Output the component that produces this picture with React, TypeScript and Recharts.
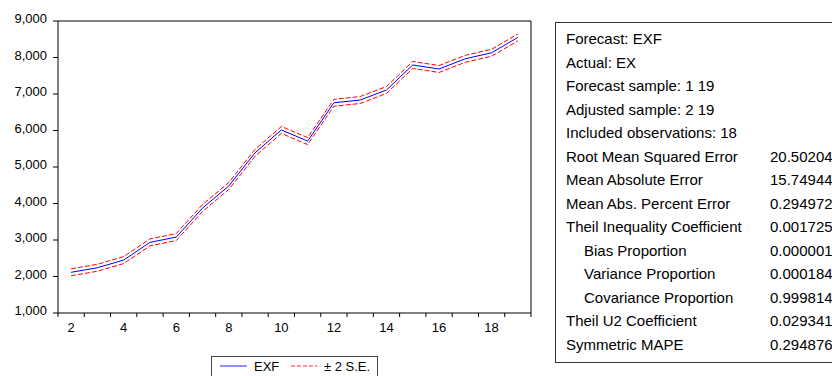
import {
  LineChart,
  Line,
  XAxis,
  YAxis,
  ReferenceLine,
  Legend,
} from "recharts";

// observations 2..19 (adjusted sample)
const obs = [2, 3, 4, 5, 6, 7, 8, 9, 10, 11, 12, 13, 14, 15, 16, 17, 18, 19];
const exf = [
  2115, 2240, 2450, 2935, 3080, 3875, 4480, 5390, 6015, 5710, 6760, 6835,
  7110, 7795, 7685, 7965, 8130, 8550,
];
const upper = [
  2210, 2335, 2545, 3030, 3175, 3970, 4575, 5485, 6110, 5805, 6855, 6930,
  7205, 7890, 7780, 8060, 8225, 8645,
];
const lower = [
  2020, 2145, 2355, 2840, 2985, 3780, 4385, 5295, 5920, 5615, 6665, 6740,
  7015, 7700, 7590, 7870, 8035, 8455,
];

const yTicks = [1000, 2000, 3000, 4000, 5000, 6000, 7000, 8000, 9000];
const xLabels = [2, 4, 6, 8, 10, 12, 14, 16, 18];
const xEdges = [
  1.5, 2.5, 3.5, 4.5, 5.5, 6.5, 7.5, 8.5, 9.5, 10.5, 11.5, 12.5, 13.5, 14.5,
  15.5, 16.5, 17.5, 18.5, 19.5,
];

const statLabels = [
  "Forecast: EXF",
  "Actual: EX",
  "Forecast sample: 1 19",
  "Adjusted sample: 2 19",
  "Included observations: 18",
  "Root Mean Squared Error",
  "Mean Absolute Error",
  "Mean Abs. Percent Error",
  "Theil Inequality Coefficient",
  "Bias Proportion",
  "Variance Proportion",
  "Covariance Proportion",
  "Theil U2 Coefficient",
  "Symmetric MAPE",
];
const statValues = [
  "", "", "", "", "",
  "20.50204", "15.74944", "0.294972", "0.001725", "0.000001",
  "0.000184", "0.999814", "0.029341", "0.294876",
];
const indented = [9, 10, 11];

const font = "'Liberation Sans', Arial, sans-serif";

const data = obs.map((o, i) => ({
  obs: o,
  exf: exf[i],
  upper: upper[i],
  lower: lower[i],
}));

const XTick = ({ x, y, payload }: any) => {
  const v = payload.value;
  if (Number.isInteger(v)) {
    return (
      <text x={x} y={y + 10} dy="0.71em" textAnchor="middle" fontSize={13} fill="#000" fontFamily={font}>
        {v}
      </text>
    );
  }
  return <line x1={x} x2={x} y1={y} y2={y + 4} stroke="#000" />;
};

const YTick = ({ x, y, payload }: any) => (
  <text x={x} y={y} dy={2} textAnchor="end" fontSize={13} fill="#000" fontFamily={font}>
    {payload.value.toLocaleString("en-US")}
  </text>
);

const LegendBox = () => (
  <div
    style={{
      border: "1px solid #444",
      background: "#fff",
      height: 30,
      boxSizing: "border-box",
      position: "relative",
      fontFamily: font,
      fontSize: 13,
    }}
  >
    <svg width={165} height={20} style={{ position: "absolute", left: 0, top: 0 }}>
      <line x1={8} x2={35} y1={9} y2={9} stroke="#6b6bff" strokeWidth={1.5} />
      <text x={42} y={13.5} fontSize={13} fill="#000" fontFamily={font}>EXF</text>
      <line x1={79} x2={105} y1={9} y2={9} stroke="#ff7070" strokeWidth={1.5} strokeDasharray="4 2" />
      <text x={112} y={13.5} fontSize={13} fill="#000" fontFamily={font}>± 2 S.E.</text>
    </svg>
  </div>
);

export default function App() {
  const allXTicks = [...xEdges, ...xLabels].sort((a, b) => a - b);
  return (
    <div
      style={{
        position: "absolute",
        left: 0,
        top: 0,
        width: 832,
        height: 376,
        overflow: "hidden",
        background: "#fff",
      }}
    >
      <LineChart
        width={545}
        height={376}
        data={data}
        margin={{ top: 21, right: 14, left: 0, bottom: 33 }}
      >
        <XAxis
          dataKey="obs"
          type="number"
          domain={[1.5, 19.5]}
          ticks={allXTicks}
          interval={0}
          tickSize={0}
          tickMargin={0}
          tickLine={false}
          tick={<XTick />}
          height={30}
          axisLine={{ stroke: "#000" }}
        />
        <YAxis
          type="number"
          domain={[1000, 9000]}
          ticks={yTicks}
          interval={0}
          width={58}
          tickSize={5}
          tickMargin={6}
          tick={<YTick />}
          tickLine={{ stroke: "#000" }}
          axisLine={{ stroke: "#000" }}
        />
        <ReferenceLine y={9000} stroke="#000" />
        <ReferenceLine x={19.5} stroke="#000" />
        <Line
          dataKey="upper"
          stroke="#ff0000"
          strokeWidth={1}
          strokeDasharray="5 2"
          dot={false}
          isAnimationActive={false}
        />
        <Line
          dataKey="lower"
          stroke="#ff0000"
          strokeWidth={1}
          strokeDasharray="5 2"
          dot={false}
          isAnimationActive={false}
        />
        <Line
          dataKey="exf"
          stroke="#0000ff"
          strokeWidth={1}
          dot={false}
          isAnimationActive={false}
        />
        <Legend
          layout="vertical"
          align="center"
          verticalAlign="middle"
          content={<LegendBox />}
          wrapperStyle={{ left: 211, top: 356, width: 167, height: 30 }}
        />
      </LineChart>
      <div
        style={{
          position: "absolute",
          left: 555,
          top: 22,
          width: 300,
          height: 341,
          border: "1px solid #333",
          boxSizing: "border-box",
          fontFamily: font,
          fontSize: 15,
          color: "#000",
          paddingTop: 4,
        }}
      >
        {statLabels.map((label, i) => (
          <div key={label} style={{ position: "relative", height: 23.5, lineHeight: "23.5px", whiteSpace: "nowrap" }}>
            <span style={{ position: "absolute", left: indented.includes(i) ? 28 : 10 }}>{label}</span>
            <span style={{ position: "absolute", left: 214 }}>{statValues[i]}</span>
          </div>
        ))}
      </div>
    </div>
  );
}
